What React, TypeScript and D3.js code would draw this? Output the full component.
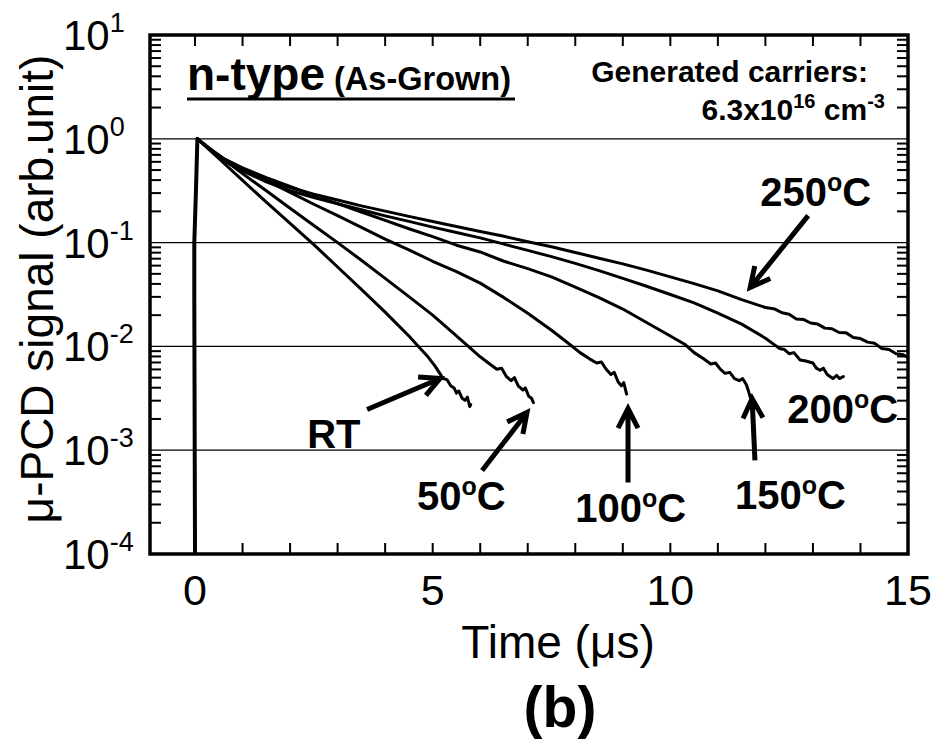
import React from "react";
import * as d3 from "d3";

// ---------- data ----------
const riseT = [0.0, -0.015, -0.015, 0.02, 0.05];
const riseV = [1e-4, 0.0277, 0.1, 0.318, 1.0];

const tRT = [0.05, 0.5, 1.0, 1.5, 2.0, 2.5, 3.0, 3.5, 4.0, 4.5, 4.7, 4.9, 5.05, 5.15, 5.22, 5.3, 5.38, 5.45, 5.5, 5.55, 5.62, 5.68, 5.73, 5.78, 5.8];
const vRT = [1.0, 0.646, 0.398, 0.245, 0.153, 0.0955, 0.0582, 0.0355, 0.0214, 0.0126, 0.01, 0.00794, 0.00646, 0.0055, 0.0049, 0.00479, 0.00417, 0.00398, 0.00355, 0.00372, 0.00316, 0.00302, 0.00324, 0.00263, 0.00275];

const t50 = [0.05, 0.5, 1.0, 1.5, 2.0, 2.5, 3.0, 3.5, 4.0, 4.5, 5.0, 5.5, 5.75, 6.0, 6.2, 6.35, 6.45, 6.55, 6.65, 6.72, 6.8, 6.9, 6.95, 7.02, 7.08, 7.12];
const v50 = [1.0, 0.684, 0.462, 0.316, 0.214, 0.146, 0.1, 0.0676, 0.0452, 0.0302, 0.02, 0.0126, 0.01, 0.00794, 0.00676, 0.00603, 0.00617, 0.00513, 0.00468, 0.00501, 0.00417, 0.0038, 0.00398, 0.00331, 0.00316, 0.00288];

const t100 = [0.05, 0.3, 0.6, 1.0, 1.5, 2.0, 2.5, 3.0, 3.5, 4.0, 4.5, 5.0, 5.5, 6.0, 6.5, 7.0, 7.5, 7.8, 8.1, 8.3, 8.45, 8.55, 8.65, 8.75, 8.82, 8.9, 8.97, 9.02, 9.08];
const v100 = [1.0, 0.813, 0.646, 0.513, 0.398, 0.305, 0.234, 0.182, 0.14, 0.108, 0.0851, 0.0661, 0.0525, 0.0407, 0.0295, 0.0209, 0.0143, 0.0112, 0.00871, 0.00759, 0.00692, 0.00708, 0.00603, 0.00537, 0.00562, 0.00457, 0.00417, 0.00447, 0.00347];

const t150 = [0.05, 0.3, 0.6, 1.0, 1.5, 2.0, 2.5, 3.0, 3.5, 4.0, 4.5, 5.0, 5.5, 6.0, 6.5, 7.0, 7.5, 8.0, 8.5, 9.0, 9.5, 10.0, 10.3, 10.5, 10.7, 10.85, 10.95, 11.05, 11.15, 11.25, 11.35, 11.45, 11.52, 11.6, 11.65, 11.68];
const v150 = [1.0, 0.804, 0.646, 0.525, 0.422, 0.347, 0.285, 0.237, 0.197, 0.164, 0.136, 0.114, 0.0944, 0.0813, 0.0661, 0.0562, 0.0468, 0.0372, 0.0295, 0.0229, 0.017, 0.0126, 0.0105, 0.00871, 0.00759, 0.00676, 0.00692, 0.00603, 0.0055, 0.00562, 0.0049, 0.00468, 0.0049, 0.00427, 0.00363, 0.00324];

const t200 = [0.05, 0.3, 0.6, 1.0, 1.5, 2.0, 2.5, 3.0, 3.5, 4.0, 4.5, 5.0, 5.5, 6.0, 6.5, 7.0, 7.5, 8.0, 8.5, 9.0, 9.5, 10.0, 10.5, 11.0, 11.5, 12.0, 12.15, 12.3, 12.4, 12.5, 12.6, 12.73, 12.85, 13.0, 13.07, 13.15, 13.22, 13.3, 13.42, 13.5, 13.56, 13.64];
const v200 = [1.0, 0.794, 0.617, 0.49, 0.385, 0.316, 0.272, 0.237, 0.207, 0.181, 0.16, 0.141, 0.125, 0.111, 0.0966, 0.0841, 0.0733, 0.0631, 0.0537, 0.0452, 0.038, 0.0316, 0.0263, 0.0209, 0.0164, 0.012, 0.0107, 0.00955, 0.00933, 0.00851, 0.00871, 0.00741, 0.00724, 0.00692, 0.00617, 0.00589, 0.00617, 0.00537, 0.0049, 0.00525, 0.0049, 0.00513];

const t250 = [0.05, 0.3, 0.6, 1.0, 1.5, 2.0, 2.5, 3.0, 3.5, 4.0, 4.5, 5.0, 5.5, 6.0, 6.5, 7.0, 7.5, 8.0, 8.5, 9.0, 9.5, 10.0, 10.5, 11.0, 11.5, 12.0, 12.2, 12.35, 12.5, 12.65, 12.8, 12.95, 13.1, 13.25, 13.4, 13.55, 13.7, 13.85, 14.0, 14.15, 14.3, 14.45, 14.6, 14.75, 14.9, 15.05];
const v250 = [1.0, 0.794, 0.624, 0.501, 0.403, 0.339, 0.292, 0.257, 0.226, 0.201, 0.179, 0.16, 0.143, 0.128, 0.115, 0.102, 0.0912, 0.0804, 0.0708, 0.0624, 0.0543, 0.0468, 0.0403, 0.0343, 0.0282, 0.0237, 0.0229, 0.0211, 0.0204, 0.0184, 0.0182, 0.0168, 0.0164, 0.015, 0.0148, 0.0136, 0.0135, 0.0122, 0.0119, 0.011, 0.0107, 0.00955, 0.00933, 0.00851, 0.00832, 0.00759];

const seriesT = [tRT, t50, t100, t150, t200, t250];
const seriesV = [vRT, v50, v100, v150, v200, v250];

// annotations (data coordinates)
const labelNames = ["RT", "50", "100", "150", "200", "250"];
const labelPos: [number, number][] = [[2.36, 1.04e-3], [4.67, 2.64e-4], [8.0, 2.02e-4], [11.36, 2.7e-4], [12.46, 1.82e-3], [11.89, 0.227]];
const arrowTail: [number, number][] = [[3.62, 0.00247], [6.04, 6.37e-4], [9.11, 4.89e-4], [11.78, 7.96e-4], [12.9, 0.182]];
const arrowTip: [number, number][] = [[5.155, 0.00491], [6.985, 0.00231], [9.11, 0.00252], [11.72, 0.00315], [11.68, 0.0369]];

const xTickLabels = [0, 5, 10, 15];
const xMinorTicks = d3.range(0, 16, 1);
const yExponents = [1, 0, -1, -2, -3, -4];
const gridExponents = [0, -1, -2, -3];

const FONT = "'Liberation Sans', Arial, sans-serif";

export default function App() {
  const W = 932, H = 747;
  const L = 150, R = 908, T = 35, B = 554;
  const x = d3.scaleLinear().domain([-0.947, 15]).range([L, R]);
  const y = d3.scaleLog().domain([1e-4, 10]).range([B, T]);

  const line = d3.line<[number, number]>().x(d => x(d[0])).y(d => y(d[1]));
  const riseData = riseT.map((t, i) => [t, riseV[i]] as [number, number]);

  const minorY: number[] = [];
  for (let e = -4; e < 1; e++) for (let m = 2; m <= 9; m++) minorY.push(m * Math.pow(10, e));

  const arrowPath = (x1: number, y1: number, x2: number, y2: number) => {
    const a = Math.atan2(y1 - y2, x1 - x2);
    const len = 22, s = 0.47;
    const p1 = [x2 + len * Math.cos(a + s), y2 + len * Math.sin(a + s)];
    const p2 = [x2 + len * Math.cos(a - s), y2 + len * Math.sin(a - s)];
    return `M${x1},${y1}L${x2},${y2}M${p1[0]},${p1[1]}L${x2},${y2}L${p2[0]},${p2[1]}`;
  };

  return (
    <svg width={W} height={H} style={{ position: "absolute", left: 0, top: 0, background: "#fff" }} fontFamily={FONT}>
      <rect x={0} y={0} width={W} height={H} fill="#fff" />
      <defs>
        <clipPath id="plotclip">
          <rect x={L} y={T} width={R - L} height={B - T} />
        </clipPath>
      </defs>

      {/* grid lines */}
      {gridExponents.map(e => (
        <line key={e} x1={L} x2={R} y1={y(Math.pow(10, e))} y2={y(Math.pow(10, e))} stroke="#000" strokeWidth={1.3} />
      ))}

      {/* minor y ticks */}
      {minorY.map((v, i) => (
        <g key={i}>
          <line x1={L} x2={L + 11} y1={y(v)} y2={y(v)} stroke="#000" strokeWidth={2} />
          <line x1={R} x2={R - 11} y1={y(v)} y2={y(v)} stroke="#000" strokeWidth={2} />
        </g>
      ))}

      {/* x ticks */}
      {xMinorTicks.map(t => (
        <g key={t}>
          <line x1={x(t)} x2={x(t)} y1={B} y2={B - 11} stroke="#000" strokeWidth={2} />
          <line x1={x(t)} x2={x(t)} y1={T} y2={T + 11} stroke="#000" strokeWidth={2} />
        </g>
      ))}

      {/* curves */}
      <g clipPath="url(#plotclip)" fill="none" stroke="#000" strokeLinejoin="round" strokeLinecap="round">
        <path d={line(riseData) || ""} strokeWidth={4} />
        {seriesT.map((ts, k) => {
          const data = ts.map((t, i) => [t, seriesV[k][i]] as [number, number]);
          return <path key={k} d={line(data) || ""} strokeWidth={3} />;
        })}
      </g>

      {/* frame */}
      <rect x={L} y={T} width={R - L} height={B - T} fill="none" stroke="#000" strokeWidth={3.5} />

      {/* y tick labels */}
      {yExponents.map(e => (
        <text key={e} x={63} y={y(Math.pow(10, e)) + 15} fontSize={42} fill="#000">
          10<tspan dy={-18} fontSize={27}>{String(e)}</tspan>
        </text>
      ))}

      {/* x tick labels */}
      {xTickLabels.map(t => (
        <text key={t} x={x(t)} y={605} fontSize={43} textAnchor="middle" fill="#000">{t}</text>
      ))}

      {/* axis titles */}
      <text x={558} y={658} fontSize={46} textAnchor="middle" fill="#000">Time (μs)</text>
      <text transform="translate(53,289) rotate(-90)" fontSize={46} textAnchor="middle" fill="#000">μ-PCD signal (arb.unit)</text>
      <text x={560} y={727} fontSize={57} fontWeight="bold" textAnchor="middle" fill="#000">(b)</text>

      {/* title */}
      <text x={187} y={90} fontSize={46} fontWeight="bold" fill="#000">
        n-type<tspan fontSize={32.5}> (As-Grown)</tspan>
      </text>
      <line x1={187} x2={515} y1={99} y2={99} stroke="#000" strokeWidth={3} />

      <text x={868} y={82} fontSize={30} fontWeight="bold" textAnchor="end" fill="#000">Generated carriers:</text>
      <text x={885} y={120} fontSize={30} fontWeight="bold" textAnchor="end" fill="#000">
        6.3x10<tspan dy={-12} fontSize={20}>16</tspan><tspan dy={12}> cm</tspan><tspan dy={-12} fontSize={20}>-3</tspan>
      </text>

      {/* arrows */}
      {arrowTail.map((p, i) => (
        <path key={i} d={arrowPath(x(p[0]), y(p[1]), x(arrowTip[i][0]), y(arrowTip[i][1]))} fill="none" stroke="#000" strokeWidth={5} strokeLinejoin="miter" />
      ))}

      {/* temperature labels */}
      {labelNames.map((n, i) => (
        <text key={n} x={x(labelPos[i][0])} y={y(labelPos[i][1])} fontSize={40} fontWeight="bold" fill="#000">
          {n === "RT" ? "RT" : (
            <>
              {n}<tspan dy={-15} fontSize={25}>o</tspan><tspan dy={15}>C</tspan>
            </>
          )}
        </text>
      ))}
    </svg>
  );
}
